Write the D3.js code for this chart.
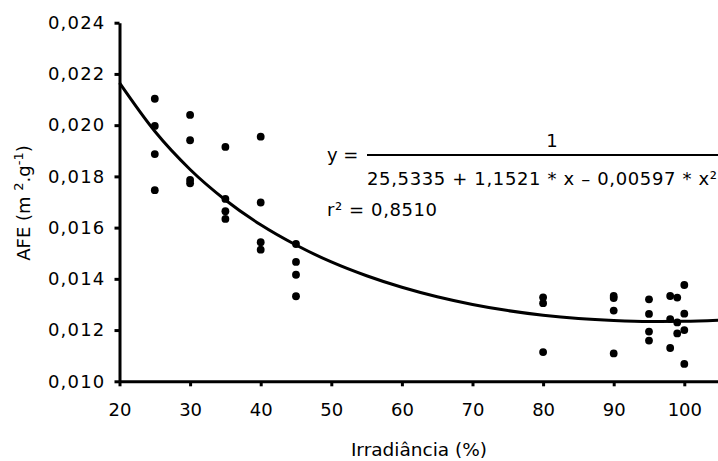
<!DOCTYPE html>
<html>
<head>
<meta charset="utf-8">
<script src="https://cdn.jsdelivr.net/npm/d3@7"></script>
<style>
  body { margin: 0; background: #fff; }
  svg { display: block; font-family: "DejaVu Sans", sans-serif; }
</style>
</head>
<body>
<svg id="chart" width="718" height="461"></svg>
<script>
// observed points: irradiance (%) and AFE (m2/g)
const irrX = [25, 25, 25, 25, 30, 30, 30, 30, 35, 35, 35, 35, 40, 40, 40, 40, 45, 45, 45, 45,
  80, 80, 80, 90, 90, 90, 90, 95, 95, 95, 95, 98, 98, 98, 99, 99, 99, 100, 100, 100, 100];
const afeY = [0.02103, 0.01997, 0.01887, 0.01746,
  0.02040, 0.01941, 0.01786, 0.01773,
  0.01915, 0.01712, 0.01664, 0.01634,
  0.01955, 0.01698, 0.01543, 0.01514,
  0.01536, 0.01466, 0.01416, 0.01332,
  0.01328, 0.01305, 0.01114,
  0.01333, 0.01325, 0.01276, 0.01109,
  0.01320, 0.01263, 0.01194, 0.01159,
  0.01333, 0.01243, 0.01130,
  0.01327, 0.01230, 0.01187,
  0.01376, 0.01264, 0.01200, 0.01068];

// fitted curve
const curveX = [20, 25, 30, 35, 40, 45, 50, 55, 60, 65, 70, 75, 80, 85, 90, 95, 100, 105];
const curveY = [0.02165, 0.01976, 0.01827, 0.01708, 0.01611, 0.01532, 0.01466, 0.01412, 0.01367,
  0.01330, 0.01300, 0.01276, 0.01258, 0.01245, 0.01237, 0.01233, 0.01234, 0.01239];

const xTicks = [20, 30, 40, 50, 60, 70, 80, 90, 100];
const yTicks = [0.010, 0.012, 0.014, 0.016, 0.018, 0.020, 0.022, 0.024];

const ptBR = d3.formatLocale({ decimal: ",", thousands: ".", grouping: [3], currency: ["R$", ""] });
const fmtY = ptBR.format(".3f");

let svg = d3.select("#chart");

let xScale = d3.scaleLinear().domain([20, 105]).range([119.5, 719.6]);
let yScale = d3.scaleLinear().domain([0.010, 0.024]).range([381.3, 22.7]);

// X axis
let xAxis = svg.append("g")
  .attr("transform", "translate(0," + yScale(0.010) + ")")
  .call(d3.axisBottom(xScale).tickValues(xTicks).tickSize(5).tickPadding(17).tickSizeOuter(0));

// Y axis
let yAxis = svg.append("g")
  .attr("transform", "translate(" + xScale(20) + ",0)")
  .call(d3.axisLeft(yScale).tickValues(yTicks).tickFormat(fmtY).tickSize(5).tickPadding(9).tickSizeOuter(0));

svg.selectAll(".domain").attr("stroke", "#000").attr("stroke-width", 3);
svg.selectAll(".tick line").attr("stroke", "#000").attr("stroke-width", 3);
svg.selectAll(".tick text")
  .attr("fill", "#000")
  .style("font-family", "'DejaVu Sans', sans-serif")
  .style("font-size", "18px");
yAxis.selectAll(".tick text").style("letter-spacing", "1.2px");

// fitted curve
let line = d3.line()
  .x(function (d, i) { return xScale(curveX[i]); })
  .y(function (d) { return yScale(d); })
  .curve(d3.curveMonotoneX);

svg.append("path")
  .datum(curveY)
  .attr("d", line)
  .attr("fill", "none")
  .attr("stroke", "#000")
  .attr("stroke-width", 3);

// points
svg.append("g")
  .selectAll("circle")
  .data(afeY)
  .enter()
  .append("circle")
  .attr("cx", function (d, i) { return xScale(irrX[i]); })
  .attr("cy", function (d) { return yScale(d); })
  .attr("r", 3.9)
  .attr("fill", "#000");

// axis titles
svg.append("text")
  .attr("x", 419)
  .attr("y", 456)
  .attr("text-anchor", "middle")
  .style("font-size", "18.5px")
  .text("Irradiância (%)");

let yTitle = svg.append("text")
  .attr("transform", "translate(30,203) rotate(-90)")
  .attr("text-anchor", "middle")
  .style("font-size", "18px");
yTitle.append("tspan").text("AFE (m ");
yTitle.append("tspan").attr("dy", -7).style("font-size", "13px").text("2");
yTitle.append("tspan").attr("dy", 7).text(".g");
yTitle.append("tspan").attr("dy", -7).style("font-size", "13px").text("-1");
yTitle.append("tspan").attr("dy", 7).text(")");

// equation
let eq = svg.append("g").style("font-size", "18px");
eq.append("text").attr("x", 327).attr("y", 161).text("y  =");
eq.append("line")
  .attr("x1", 367).attr("x2", 718)
  .attr("y1", 155).attr("y2", 155)
  .attr("stroke", "#000").attr("stroke-width", 2);
eq.append("text").attr("x", 552).attr("y", 147).attr("text-anchor", "middle").text("1");
eq.append("text")
  .attr("x", 367).attr("y", 185)
  .attr("textLength", 350).attr("lengthAdjust", "spacing")
  .text("25,5335 + 1,1521 * x – 0,00597 * x²");
eq.append("text").attr("x", 327).attr("y", 216)
  .attr("textLength", 110).attr("lengthAdjust", "spacing")
  .text("r² = 0,8510");
</script>
</body>
</html>
